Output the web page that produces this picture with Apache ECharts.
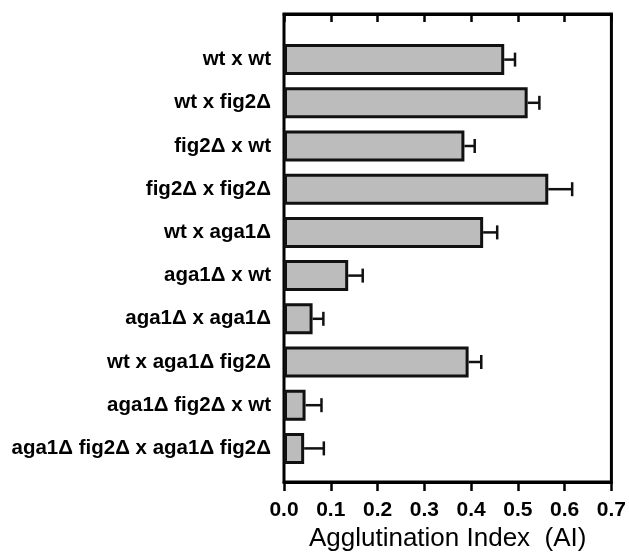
<!DOCTYPE html>
<html lang="en">
<head>
    <meta charset="UTF-8"/>
    <title>agglutination</title>
    <script src="https://cdn.jsdelivr.net/npm/echarts@6/dist/echarts.min.js"></script>
    <style>
        html, body { margin: 0; padding: 0; background: #fff; }
    </style>
</head>
<body>
<div id="main" style="width: 629px;height:557px;"></div>
<script type="text/javascript">
    // crosses, top to bottom
    var crosses = [
        'wt x wt',
        'wt x fig2Δ',
        'fig2Δ x wt',
        'fig2Δ x fig2Δ',
        'wt x aga1Δ',
        'aga1Δ x wt',
        'aga1Δ x aga1Δ',
        'wt x aga1Δ fig2Δ',
        'aga1Δ fig2Δ x wt',
        'aga1Δ fig2Δ x aga1Δ fig2Δ'
    ];
    // mean agglutination index
    var aiMean = [0.470, 0.520, 0.385, 0.564, 0.425, 0.137, 0.061, 0.394, 0.046, 0.043];
    // error (upper only)
    var aiErr = [0.023, 0.025, 0.022, 0.051, 0.030, 0.031, 0.023, 0.027, 0.034, 0.042];
    var xTicks = ['0.0', '0.1', '0.2', '0.3', '0.4', '0.5', '0.6', '0.7'];

    var errData = [];
    for (var i = 0; i < crosses.length; i++) {
        errData.push([i, aiMean[i], aiMean[i] + aiErr[i]]);
    }

    var myChart = echarts.init(document.getElementById('main'));
    var ff = 'Liberation Sans, Arial, sans-serif';

    var option = {
        animation: false,
        grid: [
            // frame
            {left: 284, right: 17, top: 14, bottom: 75, show: true, borderColor: '#000', borderWidth: 3, backgroundColor: 'transparent'},
            // bars
            {left: 284, right: 17, top: 38, bottom: 87}
        ],
        xAxis: [
            {
                gridIndex: 0, type: 'value', position: 'bottom', min: 0, max: 0.7, interval: 0.1,
                splitLine: {show: false},
                axisLine: {show: true, lineStyle: {color: '#000', width: 3}},
                axisTick: {show: true, inside: false, length: 9, lineStyle: {color: '#000', width: 2.5}},
                axisLabel: {
                    margin: 18, fontSize: 21, fontFamily: ff, fontWeight: 'bold', color: '#000',
                    formatter: function (v) { return xTicks[Math.round(v * 10)]; }
                },
                name: 'Agglutination Index  (AI)',
                nameLocation: 'middle',
                nameGap: 40,
                nameTextStyle: {fontSize: 26, fontFamily: ff, color: '#000'}
            },
            {
                gridIndex: 0, type: 'value', position: 'top', min: 0, max: 0.7, interval: 0.1,
                splitLine: {show: false},
                axisLine: {show: true, lineStyle: {color: '#000', width: 3}},
                axisTick: {show: true, inside: true, length: 8, lineStyle: {color: '#000', width: 2.5}},
                axisLabel: {show: false}
            },
            {
                gridIndex: 1, type: 'value', min: 0, max: 0.7, show: false
            }
        ],
        yAxis: [
            {gridIndex: 0, type: 'value', show: false},
            {
                gridIndex: 1, type: 'category', data: crosses, inverse: true,
                axisLine: {show: false},
                axisTick: {show: false},
                axisLabel: {margin: 13, fontSize: 20.5, fontFamily: ff, fontWeight: 'bold', color: '#000'}
            }
        ],
        series: [
            {
                type: 'bar',
                xAxisIndex: 2,
                yAxisIndex: 1,
                data: aiMean,
                barWidth: 31,
                itemStyle: {color: '#bcbcbc', borderColor: '#111', borderWidth: 3},
                z: 3
            },
            {
                type: 'custom',
                xAxisIndex: 2,
                yAxisIndex: 1,
                data: errData,
                encode: {x: [1, 2], y: 0},
                z: 2,
                renderItem: function (params, api) {
                    var idx = api.value(0);
                    var p0 = api.coord([api.value(1), idx]);
                    var p1 = api.coord([api.value(2), idx]);
                    var style = {stroke: '#111', lineWidth: 2.5};
                    return {
                        type: 'group',
                        children: [
                            {type: 'line', shape: {x1: p0[0], y1: p0[1], x2: p1[0], y2: p1[1]}, style: style},
                            {type: 'line', shape: {x1: p1[0], y1: p1[1] - 7, x2: p1[0], y2: p1[1] + 7}, style: style}
                        ]
                    };
                }
            }
        ]
    };
    myChart.setOption(option);
</script>
</body>
</html>
